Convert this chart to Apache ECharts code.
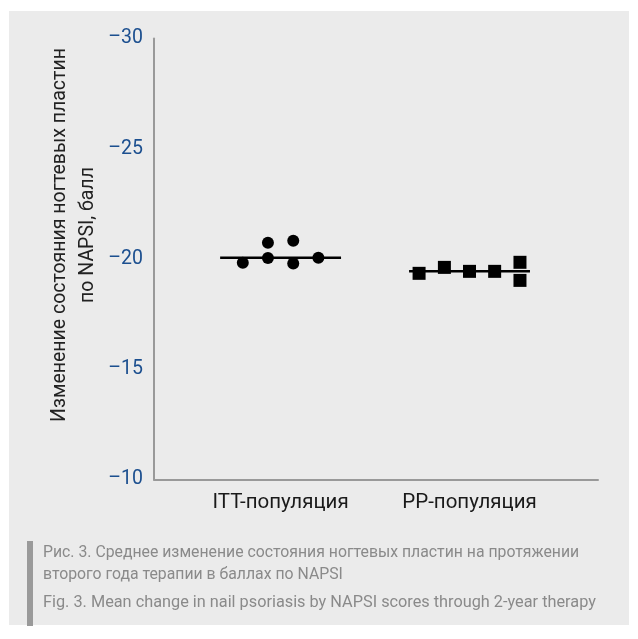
<!DOCTYPE html>
<html>
<head>
<meta charset="utf-8">
<script src="https://cdn.jsdelivr.net/npm/echarts@6/dist/echarts.min.js"></script>
<style>
  html, body { margin: 0; padding: 0; background: #fff; }
  #chart { width: 638px; height: 639px; }
</style>
</head>
<body>
<div id="chart"></div>
<script>
// категории (позиция на оси X и подпись)
const categories = ['ITT-популяция', 'PP-популяция']
const categoryPos = [1, 2]

// индивидуальные значения (x — позиция с разбросом внутри группы)
const ittX = [0.8, 0.933, 0.933, 1.067, 1.067, 1.2]
const ittY = [-19.83, -20.74, -20.05, -20.83, -19.8, -20.06]
const ppX = [1.733, 1.867, 2.0, 2.133, 2.267, 2.267]
const ppY = [-19.35, -19.62, -19.44, -19.44, -19.85, -19.03]

// средние значения по группам
const means = [-20.06, -19.44]

// подписи оси Y
const yTicks = [-30, -25, -20, -15, -10]

const FONT = 'Roboto, "Liberation Sans", sans-serif'
const halfLine = 0.32

const chart = echarts.init(document.getElementById('chart'))

const zip = (xs, ys) => xs.map((x, i) => [x, ys[i]])

chart.setOption({
  backgroundColor: '#ffffff',
  animation: false,
  graphic: [
    { type: 'rect', z: -10, shape: { x: 9, y: 11, width: 620, height: 614 }, style: { fill: '#ebebeb' } },
    {
      type: 'text', x: 74, y: 235, rotation: Math.PI / 2,
      style: {
        text: 'Изменение состояния ногтевых пластин\nпо NAPSI, балл',
        font: '19.5px ' + FONT, fill: '#222',
        align: 'center', verticalAlign: 'middle', lineHeight: 28
      }
    },
    { type: 'rect', shape: { x: 27, y: 541, width: 6, height: 85 }, style: { fill: '#9a9a9a' } },
    {
      type: 'text', x: 43, y: 542,
      style: {
        text: 'Рис. 3. Среднее изменение состояния ногтевых пластин на протяжении\nвторого года терапии в баллах по NAPSI',
        font: '15.8px ' + FONT, fill: '#8a8a8a', lineHeight: 22
      }
    },
    {
      type: 'text', x: 43, y: 595,
      style: {
        text: 'Fig. 3. Mean change in nail psoriasis by NAPSI scores through 2-year therapy',
        font: '16.3px ' + FONT, fill: '#8a8a8a'
      }
    }
  ],
  grid: { left: 154, right: 40, top: 38.5, bottom: 159.5 },
  xAxis: {
    type: 'value',
    min: 0.33,
    max: 2.68,
    splitLine: { show: false },
    axisTick: { show: false },
    axisLine: { lineStyle: { color: '#999999', width: 2 } },
    axisLabel: {
      customValues: categoryPos,
      formatter: (v) => categories[categoryPos.indexOf(v)] || '',
      color: '#1a1a1a',
      fontFamily: FONT,
      fontSize: 20.5,
      margin: 13
    }
  },
  yAxis: {
    type: 'value',
    inverse: true,
    min: -30,
    max: -10,
    interval: 5,
    splitLine: { show: false },
    axisTick: { show: false },
    axisLine: { show: true, lineStyle: { color: '#999999', width: 2 } },
    axisLabel: {
      customValues: yTicks,
      formatter: (v) => '\u2013' + Math.abs(v),
      color: '#1c4f8f',
      fontFamily: FONT,
      fontSize: 19.5,
      margin: 11
    }
  },
  series: [
    {
      type: 'line',
      data: [[categoryPos[0] - halfLine, means[0]], [categoryPos[0] + halfLine, means[0]]],
      symbol: 'none',
      lineStyle: { color: '#000', width: 2.5 },
      z: 1
    },
    {
      type: 'line',
      data: [[categoryPos[1] - halfLine, means[1]], [categoryPos[1] + halfLine, means[1]]],
      symbol: 'none',
      lineStyle: { color: '#000', width: 2.5 },
      z: 1
    },
    {
      type: 'scatter',
      data: zip(ittX, ittY),
      symbol: 'circle',
      symbolSize: 12,
      itemStyle: { color: '#000', opacity: 1 },
      z: 2
    },
    {
      type: 'scatter',
      data: zip(ppX, ppY),
      symbol: 'rect',
      symbolSize: 13,
      itemStyle: { color: '#000', opacity: 1 },
      z: 2
    }
  ]
})
</script>
</body>
</html>
